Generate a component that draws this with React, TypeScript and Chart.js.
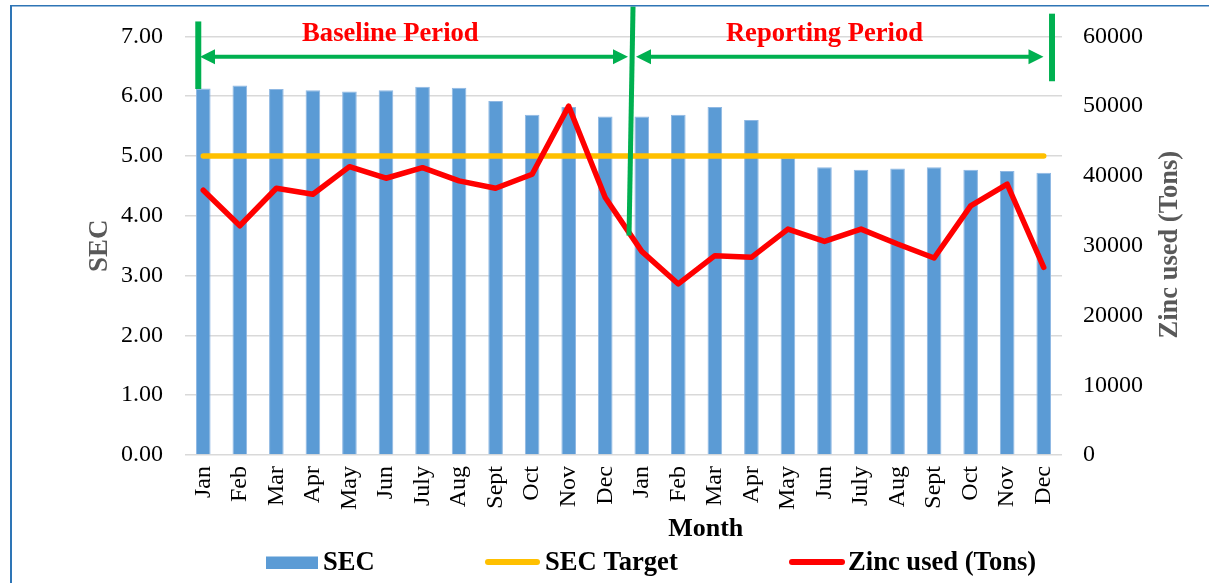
import React, { useEffect, useRef } from "react";
import { Chart, registerables } from "chart.js";

Chart.register(...registerables);

const months = [
  "Jan", "Feb", "Mar", "Apr", "May", "Jun", "July", "Aug", "Sept", "Oct", "Nov", "Dec",
  "Jan", "Feb", "Mar", "Apr", "May", "Jun", "July", "Aug", "Sept", "Oct", "Nov", "Dec",
];

const secValues = [
  6.13, 6.18, 6.12, 6.10, 6.08, 6.10, 6.16, 6.14, 5.92, 5.69, 5.82, 5.66,
  5.66, 5.69, 5.82, 5.60, 4.97, 4.81, 4.77, 4.79, 4.81, 4.77, 4.75, 4.72,
];

const secTarget = [
  5, 5, 5, 5, 5, 5, 5, 5, 5, 5, 5, 5,
  5, 5, 5, 5, 5, 5, 5, 5, 5, 5, 5, 5,
];

const zincUsed = [
  37960, 32860, 38240, 37380, 41330, 39670, 41190, 39290, 38240, 40240, 50000, 36900,
  29190, 24520, 28570, 28330, 32380, 30620, 32380, 30240, 28240, 35710, 38810, 26900,
];

const secTicks = [0, 1, 2, 3, 4, 5, 6, 7];
const zincTicks = [0, 10000, 20000, 30000, 40000, 50000, 60000];

const periodLabels = ["Baseline Period", "Reporting Period"];
const legendLabels = ["SEC", "SEC Target", "Zinc used (Tons)"];
const axisTitles = { x: "Month", y: "SEC", y1: "Zinc used (Tons)" };

const SERIF = "'Liberation Serif', 'Times New Roman', serif";
const BLUE = "#5B9BD5";
const YELLOW = "#FFC000";
const RED = "#FF0000";
const GREEN = "#00B050";
const GRAY = "#595959";

function arrowHead(ctx: CanvasRenderingContext2D, tipX: number, y: number, dir: number) {
  const len = 15;
  const half = 7.5;
  ctx.beginPath();
  ctx.moveTo(tipX, y);
  ctx.lineTo(tipX - dir * len, y - half);
  ctx.lineTo(tipX - dir * len, y + half);
  ctx.closePath();
  ctx.fill();
}

function doubleArrow(ctx: CanvasRenderingContext2D, x1: number, x2: number, y: number) {
  ctx.beginPath();
  ctx.moveTo(x1 + 10, y);
  ctx.lineTo(x2 - 10, y);
  ctx.stroke();
  arrowHead(ctx, x1, y, -1);
  arrowHead(ctx, x2, y, 1);
}

const overlayPlugin = {
  id: "overlay",
  afterDatasetsDraw(chart: any) {
    const ctx: CanvasRenderingContext2D = chart.ctx;
    const xs = chart.scales.x;
    const ys = chart.scales.y;
    const px = (v: number) => xs.getPixelForValue(v);
    const py = (v: number) => ys.getPixelForValue(v);
    ctx.save();
    ctx.strokeStyle = GREEN;
    ctx.fillStyle = GREEN;
    ctx.lineCap = "butt";

    // vertical period markers
    ctx.lineWidth = 6;
    ctx.beginPath();
    ctx.moveTo(px(0) - 5, py(7.25));
    ctx.lineTo(px(0) - 5, py(6.12));
    ctx.stroke();

    ctx.lineWidth = 5;
    ctx.beginPath();
    ctx.moveTo(px(12) - 8.75, py(7.5));
    ctx.lineTo(px(12) - 12.75, py(3.67));
    ctx.stroke();

    ctx.lineWidth = 6;
    ctx.beginPath();
    ctx.moveTo(px(23) + 8.3, py(7.38));
    ctx.lineTo(px(23) + 8.3, py(6.25));
    ctx.stroke();

    // arrows
    ctx.lineWidth = 4;
    const ay = py(6.66);
    doubleArrow(ctx, px(0) - 3.3, px(12) - 13.75, ay);
    doubleArrow(ctx, px(12) - 5.75, px(23) - 0.2, ay);

    // period labels
    ctx.fillStyle = RED;
    ctx.font = `bold 26.6px ${SERIF}`;
    ctx.textAlign = "center";
    ctx.textBaseline = "alphabetic";
    ctx.fillText(periodLabels[0], px(5.12), py(6.92));
    ctx.fillText(periodLabels[1], px(17), py(6.92));
    ctx.restore();
  },
  afterDraw(chart: any) {
    const ctx: CanvasRenderingContext2D = chart.ctx;
    const xs = chart.scales.x;
    const ys = chart.scales.y;
    ctx.save();

    // frame
    ctx.fillStyle = "#2E75B6";
    ctx.fillRect(10, 5, 2, chart.height);
    ctx.fillRect(10, 5, chart.width, 1.5);

    // axis titles
    ctx.font = `bold 26px ${SERIF}`;
    ctx.fillStyle = "#000";
    ctx.textAlign = "center";
    ctx.textBaseline = "alphabetic";
    ctx.fillText(axisTitles.x, xs.getPixelForValue(13.75), 536);

    const midY = (ys.top + ys.bottom) / 2;
    ctx.fillStyle = GRAY;
    ctx.save();
    ctx.translate(107, midY);
    ctx.rotate(-Math.PI / 2);
    ctx.font = `bold 27px ${SERIF}`;
    ctx.fillText(axisTitles.y, 0, 0);
    ctx.restore();

    ctx.save();
    ctx.translate(1177, midY - 1);
    ctx.rotate(-Math.PI / 2);
    ctx.font = `bold 26.5px ${SERIF}`;
    ctx.fillText(axisTitles.y1, 0, 0);
    ctx.restore();

    // legend
    const ly = 562;
    ctx.font = `bold 26.6px ${SERIF}`;
    ctx.textAlign = "left";
    ctx.fillStyle = BLUE;
    ctx.fillRect(266, 556.5, 52, 12.5);
    ctx.fillStyle = "#000";
    ctx.fillText(legendLabels[0], 323, 570);

    ctx.lineCap = "round";
    ctx.lineWidth = 6;
    ctx.strokeStyle = YELLOW;
    ctx.beginPath();
    ctx.moveTo(488, ly);
    ctx.lineTo(537, ly);
    ctx.stroke();
    ctx.fillText(legendLabels[1], 545, 570);

    ctx.strokeStyle = RED;
    ctx.beginPath();
    ctx.moveTo(792, ly);
    ctx.lineTo(842, ly);
    ctx.stroke();
    ctx.fillText(legendLabels[2], 848, 570);

    ctx.restore();
  },
};

export default function App() {
  const canvasRef = useRef<HTMLCanvasElement | null>(null);

  useEffect(() => {
    if (!canvasRef.current) return;
    const tickFont = { family: SERIF, size: 24 };
    const chart = new Chart(canvasRef.current, {
      type: "bar",
      data: {
        labels: months,
        datasets: [
          {
            type: "bar",
            label: legendLabels[0],
            data: secValues,
            backgroundColor: BLUE,
            borderColor: "#8FB8E3",
            borderWidth: 1,
            barPercentage: 0.4,
            categoryPercentage: 1,
            yAxisID: "y",
            order: 3,
          },
          {
            type: "line",
            label: legendLabels[1],
            data: secTarget,
            borderColor: YELLOW,
            backgroundColor: YELLOW,
            borderWidth: 5.5,
            borderCapStyle: "round",
            pointRadius: 0,
            fill: false,
            yAxisID: "y",
            order: 2,
          },
          {
            type: "line",
            label: legendLabels[2],
            data: zincUsed,
            borderColor: RED,
            backgroundColor: RED,
            borderWidth: 5.5,
            borderCapStyle: "round",
            borderJoinStyle: "round",
            pointRadius: 0,
            tension: 0,
            fill: false,
            yAxisID: "y1",
            order: 1,
          },
        ],
      } as any,
      options: {
        animation: false,
        responsive: true,
        maintainAspectRatio: false,
        events: [],
        layout: { padding: { top: 35, left: 0, right: 0, bottom: 45 } },
        plugins: {
          legend: { display: false },
          tooltip: { enabled: false },
          title: { display: false },
        },
        scales: {
          x: {
            grid: { display: false, drawTicks: false },
            border: { display: false },
            ticks: {
              font: tickFont,
              color: "#000",
              maxRotation: 90,
              minRotation: 90,
              autoSkip: false,
              padding: 11,
            },
            afterFit: (s: any) => {
              s.height = 83;
            },
          },
          y: {
            position: "left",
            min: secTicks[0],
            max: secTicks[secTicks.length - 1],
            afterBuildTicks: (s: any) => {
              s.ticks = secTicks.map((v) => ({ value: v }));
            },
            grid: { color: "#D9D9D9", lineWidth: 1.5, drawTicks: false },
            border: { display: false },
            ticks: {
              font: tickFont,
              color: "#000",
              padding: 22,
              callback: (v: any) => Number(v).toFixed(2),
            },
            afterFit: (s: any) => {
              s.width = 185;
            },
          },
          y1: {
            position: "right",
            min: zincTicks[0],
            max: zincTicks[zincTicks.length - 1],
            afterBuildTicks: (s: any) => {
              s.ticks = zincTicks.map((v) => ({ value: v }));
            },
            grid: { display: false, drawTicks: false },
            border: { display: false },
            ticks: {
              font: tickFont,
              color: "#000",
              padding: 21,
              callback: (v: any) => String(v),
            },
            afterFit: (s: any) => {
              s.width = 147;
            },
          },
        },
      } as any,
      plugins: [overlayPlugin],
    });
    return () => chart.destroy();
  }, []);

  return (
    <div style={{ position: "absolute", left: 0, top: 0, width: 1209, height: 583, background: "#fff" }}>
      <canvas ref={canvasRef} />
    </div>
  );
}
